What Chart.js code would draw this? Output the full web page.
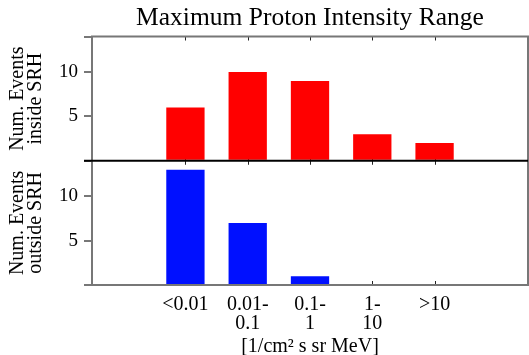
<!DOCTYPE html>
<html>
<head>
<meta charset="utf-8">
<script src="https://cdn.jsdelivr.net/npm/chart.js@4/dist/chart.umd.min.js"></script>
<style>
  html, body { margin: 0; padding: 0; background: #fff; }
</style>
</head>
<body>
<canvas id="myChart" width="529" height="355"></canvas>
<script>
const categories = [['<0.01'], ['0.01-', '0.1'], ['0.1-', '1'], ['1-', '10'], ['>10']];
const insideSRH = [6, 10, 9, 3, 2];
const outsideSRH = [13, 7, 1, 0, 0];
const yTicks = [0, 5, 10, 14];
const yTickLabels = ['', '5', '10', ''];

const serif = "'Liberation Serif', 'Times New Roman', serif";

// grey box round each panel, black line between them, small inward ticks at each bin
const framePlugin = {
  id: 'frame',
  beforeDatasetsDraw(chart) {
    const {ctx, scales: {x, yIn, yOut}} = chart;
    ctx.save();
    ctx.strokeStyle = '#222';
    ctx.lineWidth = 1;
    categories.forEach((c, i) => {
      const px = Math.round(x.getPixelForValue(i)) + 0.5;
      [yIn, yOut].forEach(s => {
        ctx.beginPath();
        ctx.moveTo(px, s.top);
        ctx.lineTo(px, s.top + 4);
        ctx.moveTo(px, s.bottom);
        ctx.lineTo(px, s.bottom - 4);
        ctx.stroke();
      });
    });
    ctx.restore();
  },
  afterDatasetsDraw(chart) {
    const {ctx, chartArea: a, scales: {yIn}} = chart;
    ctx.save();
    ctx.strokeStyle = '#777';
    ctx.lineWidth = 2;
    ctx.strokeRect(a.left, a.top, a.right - a.left, a.bottom - a.top);
    ctx.strokeStyle = '#000';
    ctx.beginPath();
    ctx.moveTo(a.left - 8, yIn.bottom);
    ctx.lineTo(a.right, yIn.bottom);
    ctx.stroke();
    ctx.restore();
  }
};

function panelAxis(title) {
  return {
    type: 'linear',
    position: 'left',
    stack: 'panels',
    min: 0,
    max: 14,
    afterBuildTicks: s => { s.ticks = yTicks.map(v => ({value: v})); },
    afterFit: s => { s.width = 92; },
    ticks: {
      callback: v => yTickLabels[yTicks.indexOf(v)],
      color: '#000',
      padding: 6,
      font: {family: serif, size: 19}
    },
    grid: {drawOnChartArea: false, drawTicks: true, tickLength: 8, color: '#777', lineWidth: 2},
    border: {display: false},
    title: {
      display: true,
      text: title,
      color: '#000',
      padding: {top: 9, bottom: 0},
      font: {family: serif, size: 20, lineHeight: 0.9}
    }
  };
}

new Chart(document.getElementById('myChart'), {
  type: 'bar',
  data: {
    datasets: [{
      label: 'inside SRH',
      data: insideSRH.map((v, i) => ({x: i, y: v})),
      yAxisID: 'yIn',
      backgroundColor: '#ff0000'
    }, {
      label: 'outside SRH',
      data: outsideSRH.map((v, i) => ({x: i, y: v})),
      yAxisID: 'yOut',
      backgroundColor: '#0010ff'
    }]
  },
  options: {
    responsive: false,
    animation: false,
    grouped: false,
    barPercentage: 0.615,
    categoryPercentage: 1,
    layout: {padding: {left: 0, right: 1, top: 0, bottom: 0}},
    plugins: {
      legend: {display: false},
      tooltip: {enabled: false},
      title: {
        display: true,
        text: 'Maximum Proton Intensity Range',
        fullSize: false,
        color: '#000',
        padding: {top: 6, bottom: 5},
        font: {family: serif, size: 25.5, weight: 'normal', lineHeight: 1.0}
      }
    },
    scales: {
      x: {
        type: 'linear',
        offset: false,
        min: -1.5,
        max: 5.5,
        afterBuildTicks: s => { s.ticks = categories.map((c, i) => ({value: i})); },
        afterFit: s => { s.height = 70; },
        ticks: {
          callback: v => categories[v],
          autoSkip: false,
          maxRotation: 0,
          color: '#000',
          padding: 10,
          font: {family: serif, size: 20, lineHeight: 0.95}
        },
        grid: {display: false, drawTicks: false},
        border: {display: false},
        title: {
          display: true,
          text: '[1/cm² s sr MeV]',
          color: '#000',
          padding: {top: 0, bottom: 0},
          font: {family: serif, size: 20, lineHeight: 0.85}
        }
      },
      yOut: panelAxis(['Num. Events', 'outside SRH']),
      yIn: panelAxis(['Num. Events', 'inside SRH'])
    }
  },
  plugins: [framePlugin]
});
</script>
</body>
</html>
